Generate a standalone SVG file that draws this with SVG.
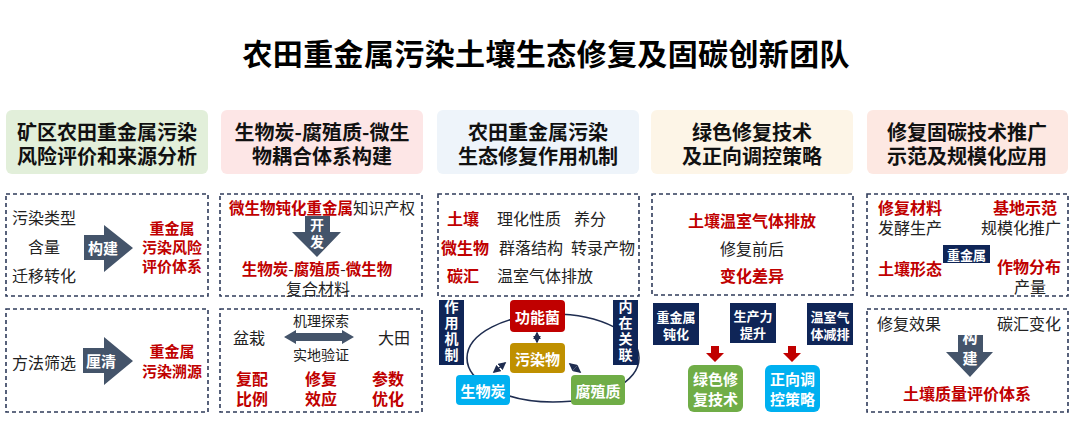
<svg xmlns="http://www.w3.org/2000/svg" width="1080" height="442" viewBox="0 0 1080 442">
<style>
text{font-family:"Noto Sans CJK SC","Noto Sans",sans-serif;dominant-baseline:central;text-anchor:middle}
.t{font-size:30px;font-weight:bold;fill:#000}
.h{font-size:20px;font-weight:bold;fill:#111}
.n{font-size:16px;fill:#222}
.r{font-size:16px;font-weight:bold;fill:#c00000}
.r15{font-size:15px;font-weight:bold;fill:#c00000}
.w{font-size:15px;font-weight:bold;fill:#fff}
.ws{font-size:14px;font-weight:bold;fill:#fff}
.wn{font-size:13px;font-weight:bold;fill:#fff}
.v{writing-mode:vertical-rl;text-anchor:middle}
.dash{fill:#fff;stroke:#2f3b5a;stroke-width:1.6;stroke-dasharray:4 3}
.arw{fill:#44546a}
.navy{fill:#0f2557}
.ra{fill:#c00000}
.ln{stroke:#1f2d50;stroke-width:1.6;fill:none}
</style>
<defs>
<marker id="ah" viewBox="0 0 10 10" refX="8" refY="5" markerWidth="5" markerHeight="5" orient="auto-start-reverse"><path d="M0,0 L10,5 L0,10 z" fill="#1f2d50"/></marker>
</defs>
<rect width="1080" height="442" fill="#fff"/>
<text class="t" x="546" y="52" textLength="607" lengthAdjust="spacing">农田重金属污染土壤生态修复及固碳创新团队</text>

<g id="header1"><rect x="6" y="110" width="202" height="64" rx="6" fill="#e2efda"/><text class="h"><tspan x="107" y="131">矿区农田重金属污染</tspan><tspan x="107" y="155">风险评价和来源分析</tspan></text></g>
<g id="header2"><rect x="221" y="110" width="202" height="64" rx="6" fill="#fde6e6"/><text class="h"><tspan x="322" y="131">生物炭-腐殖质-微生</tspan><tspan x="322" y="155">物耦合体系构建</tspan></text></g>
<g id="header3"><rect x="437" y="110" width="202" height="64" rx="6" fill="#eef4fa"/><text class="h"><tspan x="538" y="131">农田重金属污染</tspan><tspan x="538" y="155">生态修复作用机制</tspan></text></g>
<g id="header4"><rect x="651" y="110" width="202" height="64" rx="6" fill="#fdf5e7"/><text class="h"><tspan x="752" y="131">绿色修复技术</tspan><tspan x="752" y="155">及正向调控策略</tspan></text></g>
<g id="header5"><rect x="867" y="110" width="201" height="64" rx="6" fill="#fde8e2"/><text class="h"><tspan x="967" y="131">修复固碳技术推广</tspan><tspan x="967" y="155">示范及规模化应用</tspan></text></g>

<g id="box1a">
<rect class="dash" x="6" y="194" width="202" height="102"/>
<text class="n"><tspan x="44" y="217">污染类型</tspan><tspan x="44" y="246">含量</tspan><tspan x="44" y="275">迁移转化</tspan></text>
<polygon class="arw" points="84,235 104,235 104,225 133,248 104,272 104,260 84,260"/>
<text class="w" x="103" y="247">构建</text>
<text class="r15"><tspan x="172" y="227">重金属</tspan><tspan x="172" y="246">污染风险</tspan><tspan x="172" y="265">评价体系</tspan></text>
</g>
<g id="box1b">
<rect class="dash" x="6" y="309" width="202" height="103"/>
<text class="n" x="44" y="362">方法筛选</text>
<polygon class="arw" points="83,348 104,348 104,337 133,361 104,385 104,373 83,373"/>
<text class="w" x="101" y="360">厘清</text>
<text class="r15"><tspan x="172" y="350">重金属</tspan><tspan x="172" y="370">污染溯源</tspan></text>
</g>

<g id="box2a">
<rect class="dash" x="220" y="194" width="202" height="102"/>
<text x="322" y="207" style="font-size:15.5px"><tspan class="r" style="font-size:15.5px">微生物钝化重金属</tspan><tspan class="n" style="font-size:15.5px">知识产权</tspan></text>
<polygon class="arw" points="305,216 330,216 330,232 341,232 317,257 292,232 305,232"/>
<text class="ws v" x="317" y="235" style="letter-spacing:3px">开发</text>
<text style="font-size:15.5px"><tspan x="317" y="268" class="r" style="font-size:15.5px">生物炭</tspan><tspan class="n" style="font-size:15.5px">-</tspan><tspan class="r" style="font-size:15.5px">腐殖质</tspan><tspan class="n" style="font-size:15.5px">-</tspan><tspan class="r" style="font-size:15.5px">微生物</tspan><tspan class="n" x="318" y="288" style="font-size:16px">复合材料</tspan></text>
</g>
<g id="box2b">
<rect class="dash" x="220" y="309" width="202" height="103"/>
<text class="n" style="font-size:14px"><tspan x="321" y="320">机理探索</tspan><tspan x="321" y="354">实地验证</tspan></text>
<text class="n" x="249" y="337">盆栽</text>
<text class="n" x="394" y="337">大田</text>
<polygon class="arw" points="284,337 296,330 296,333 342,333 342,330 354,337 342,344 342,341 296,341 296,344"/>
<text class="r"><tspan x="252" y="378">复配</tspan><tspan x="252" y="398">比例</tspan></text>
<text class="r"><tspan x="321" y="378">修复</tspan><tspan x="321" y="398">效应</tspan></text>
<text class="r"><tspan x="388" y="378">参数</tspan><tspan x="388" y="398">优化</tspan></text>
</g>

<g id="box3a">
<rect class="dash" x="438" y="194" width="201" height="102"/>
<text class="r" x="463" y="218">土壤</text>
<text class="r" x="465" y="247">微生物</text>
<text class="r" x="463" y="275">碳汇</text>
<text class="n" x="529" y="218">理化性质</text>
<text class="n" x="590" y="218">养分</text>
<text class="n" x="531" y="247">群落结构</text>
<text class="n" x="603" y="247">转录产物</text>
<text class="n" x="545" y="275">温室气体排放</text>
</g>
<g id="mechanism">
<ellipse class="ln" cx="553" cy="358" rx="86" ry="44"/>
<rect class="navy" x="439" y="300" width="25" height="65"/>
<text class="ws v" x="451.5" y="332" style="letter-spacing:2px">作用机制</text>
<rect class="navy" x="613" y="300" width="25" height="65"/>
<text class="ws v" x="625.5" y="332" style="letter-spacing:2px">内在关联</text>
</g>
<g id="connectors">
<line class="ln" x1="537" y1="333" x2="537" y2="342" marker-end="url(#ah)" marker-start="url(#ah)"/>
<line class="ln" x1="494" y1="372" x2="505" y2="363" marker-end="url(#ah)" marker-start="url(#ah)"/>
<line class="ln" x1="580" y1="372" x2="570" y2="364" marker-end="url(#ah)" marker-start="url(#ah)"/>
</g>
<g id="gongnengjun"><rect x="510" y="300" width="55" height="32" rx="4" fill="#c00000"/><text class="w" x="537.5" y="316">功能菌</text></g>
<g id="wuranwu"><rect x="510" y="343" width="55" height="30" rx="4" fill="#bf9000"/><text class="w" x="537.5" y="358">污染物</text></g>
<g id="shengwutan"><rect x="456" y="375" width="54" height="30" rx="4" fill="#00b0f0"/><text class="w" x="483" y="390">生物炭</text></g>
<g id="fuzhizhi"><rect x="571" y="375" width="54" height="30" rx="4" fill="#70ad47"/><text class="w" x="598" y="390">腐殖质</text></g>

<g id="box4a">
<rect class="dash" x="652" y="194" width="201" height="101"/>
<text class="r" x="752" y="220">土壤温室气体排放</text>
<text class="n" x="752" y="248">修复前后</text>
<text class="r" x="752" y="275">变化差异</text>
</g>
<g id="b4n1"><rect class="navy" x="653" y="303" width="46" height="42"/><text class="wn"><tspan x="676" y="316">重金属</tspan><tspan x="676" y="333">钝化</tspan></text></g>
<g id="b4n2"><rect class="navy" x="730" y="303" width="46" height="40"/><text class="wn"><tspan x="753" y="315">生产力</tspan><tspan x="753" y="332">提升</tspan></text></g>
<g id="b4n3"><rect class="navy" x="807" y="303" width="46" height="42"/><text class="wn"><tspan x="830" y="316">温室气</tspan><tspan x="830" y="333">体减排</tspan></text></g>
<polygon class="ra" points="711,346 719,346 719,353 724,353 715,362 706,353 711,353"/>
<polygon class="ra" points="788,346 796,346 796,353 801,353 792,362 783,353 788,353"/>
<g id="lvse"><rect x="688" y="365" width="55" height="47" rx="6" fill="#70ad47"/><text class="w"><tspan x="715.5" y="378">绿色修</tspan><tspan x="715.5" y="398">复技术</tspan></text></g>
<g id="zhengxiang"><rect x="765" y="365" width="55" height="47" rx="6" fill="#00b0f0"/><text class="w"><tspan x="792.5" y="378">正向调</tspan><tspan x="792.5" y="398">控策略</tspan></text></g>

<g id="box5a">
<rect class="dash" x="867" y="194" width="201" height="102"/>
<text class="r" x="910" y="207">修复材料</text>
<text class="n" x="910" y="227">发酵生产</text>
<text class="r" x="1025" y="207">基地示范</text>
<text class="n" x="1021" y="227">规模化推广</text>
<rect class="navy" x="943" y="245" width="47" height="18"/>
<text class="wn" x="966.5" y="254">重金属</text>
<text class="r" x="910" y="268">土壤形态</text>
<text class="r" x="1029" y="266">作物分布</text>
<text class="n" x="1030" y="286">产量</text>
</g>
<g id="box5b">
<rect class="dash" x="867" y="309" width="201" height="103"/>
<text class="n" x="909" y="323">修复效果</text>
<text class="n" x="1029" y="323">碳汇变化</text>
<polygon class="arw" points="958,335 983,335 983,352 993,352 970,377 946,352 958,352"/>
<text class="w v" x="970" y="351" style="letter-spacing:6px">构建</text>
<text class="r" x="967" y="393">土壤质量评价体系</text>
</g>
</svg>
